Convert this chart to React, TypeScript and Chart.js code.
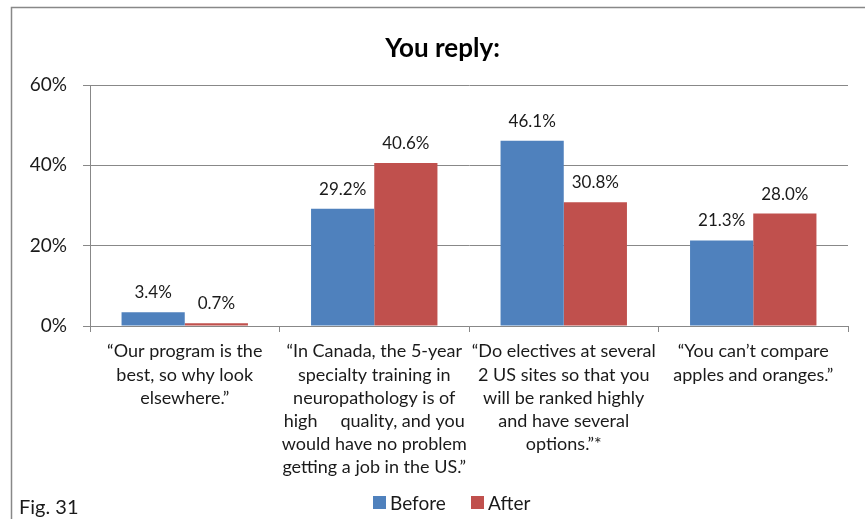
import React, { useEffect, useRef } from "react";
import { Chart, registerables } from "chart.js";

Chart.register(...registerables);

const categories: string[][] = [
  ["\u201COur program is the", "best, so why look", "elsewhere.\u201D"],
  [
    "\u201CIn Canada, the 5-year",
    "specialty training in",
    "neuropathology is of",
    "high     quality, and you",
    "would have no problem",
    "getting a job in the US.\u201D",
  ],
  [
    "\u201CDo electives at several",
    "2 US sites so that you",
    "will be ranked highly",
    "and have several",
    "options.\u201D*",
  ],
  ["\u201CYou can\u2019t compare", "apples and oranges.\u201D"],
];
const beforeValues = [3.4, 29.2, 46.1, 21.3];
const afterValues = [0.7, 40.6, 30.8, 28.0];
const seriesNames = ["Before", "After"];
const yTicks = [0, 20, 40, 60];
const titleText = "You reply:";
const figText = "Fig. 31";

const BLUE = "#4F81BD";
const RED = "#C0504D";
const GRAY = "#888888";
const TEXT = "#1a1a1a";
const FONT = "Lato, 'Open Sans', sans-serif";

export default function App() {
  const ref = useRef<HTMLCanvasElement | null>(null);

  useEffect(() => {
    document.body.style.margin = "0";
    const canvas = ref.current!;
    const decor = {
      id: "decor",
      afterDatasetsDraw(chart: any) {
        const ctx = chart.ctx;
        ctx.save();
        ctx.font = `17px ${FONT}`;
        ctx.fillStyle = TEXT;
        ctx.textAlign = "center";
        ctx.textBaseline = "alphabetic";
        chart.data.datasets.forEach((ds: any, di: number) => {
          const meta = chart.getDatasetMeta(di);
          meta.data.forEach((bar: any, i: number) => {
            ctx.fillText(ds.data[i].toFixed(1) + "%", bar.x, bar.y - 14);
          });
        });
        ctx.restore();
      },
      afterDraw(chart: any) {
        const ctx = chart.ctx;
        ctx.save();
        // frame
        ctx.strokeStyle = GRAY;
        ctx.lineWidth = 1.5;
        ctx.beginPath();
        ctx.moveTo(11.5, 519);
        ctx.lineTo(11.5, 7.5);
        ctx.lineTo(865, 7.5);
        ctx.stroke();
        // title
        ctx.fillStyle = "#000";
        ctx.font = `bold 26px ${FONT}`;
        ctx.textAlign = "center";
        ctx.textBaseline = "alphabetic";
        ctx.fillText(titleText, 442.5, 57);
        // fig label
        ctx.font = `20px ${FONT}`;
        ctx.textAlign = "left";
        ctx.fillStyle = TEXT;
        ctx.fillText(figText, 19, 514);
        // legend
        ctx.font = `19px ${FONT}`;
        const items = [
          { x: 373, color: BLUE, label: seriesNames[0] },
          { x: 471, color: RED, label: seriesNames[1] },
        ];
        items.forEach((it) => {
          ctx.fillStyle = it.color;
          ctx.fillRect(it.x, 496, 13, 13);
          ctx.fillStyle = TEXT;
          ctx.fillText(it.label, it.x + 17, 510);
        });
        ctx.restore();
      },
    };

    const chart = new Chart(canvas, {
      type: "bar",
      data: {
        labels: categories as any,
        datasets: [
          {
            label: seriesNames[0],
            data: beforeValues,
            backgroundColor: BLUE,
            barPercentage: 1,
            categoryPercentage: 0.667,
          },
          {
            label: seriesNames[1],
            data: afterValues,
            backgroundColor: RED,
            barPercentage: 1,
            categoryPercentage: 0.667,
          },
        ],
      },
      options: {
        responsive: false,
        animation: false,
        events: [],
        layout: { padding: { left: 0, top: 85, right: 17, bottom: 0 } },
        plugins: {
          legend: { display: false },
          title: { display: false },
          tooltip: { enabled: false },
        },
        scales: {
          x: {
            grid: {
              drawOnChartArea: false,
              drawTicks: true,
              tickLength: 6,
              color: GRAY,
              offset: true,
            },
            border: { display: true, color: GRAY, width: 1 },
            ticks: {
              color: TEXT,
              font: { family: FONT, size: 18, lineHeight: 23.2 / 18 },
              padding: 8,
              maxRotation: 0,
              autoSkip: false,
            },
            afterFit(scale: any) {
              scale.height = 193;
            },
          },
          y: {
            min: 0,
            max: 60,
            afterBuildTicks(scale: any) {
              scale.ticks = yTicks.map((v) => ({ value: v }));
            },
            grid: { color: GRAY, tickLength: 7, lineWidth: 1 },
            border: { display: true, color: GRAY, width: 1 },
            ticks: {
              color: TEXT,
              font: { family: FONT, size: 19 },
              padding: 16,
              callback: (v: any) => v + "%",
            },
            afterFit(scale: any) {
              scale.width = 90;
            },
          },
        },
      },
      plugins: [decor],
    });
    return () => chart.destroy();
  }, []);

  return (
    <div style={{ position: "fixed", left: 0, top: 0, width: 865, height: 519, background: "#fff" }}>
      <canvas ref={ref} width={865} height={519} style={{ display: "block" }} />
    </div>
  );
}
